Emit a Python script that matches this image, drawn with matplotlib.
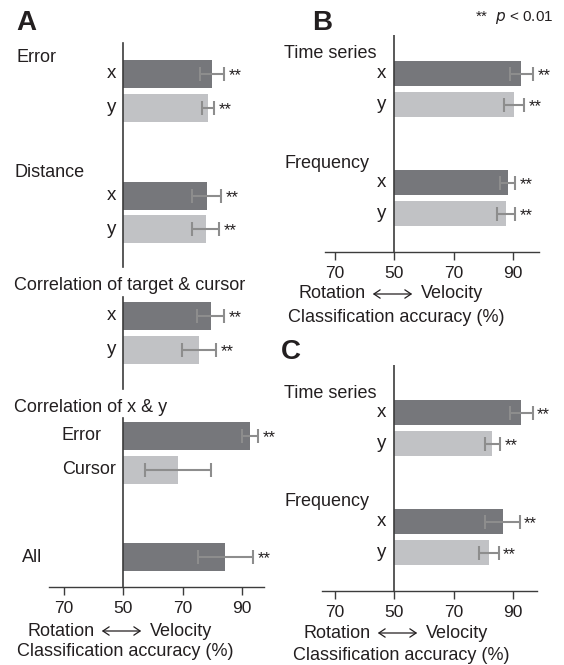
import numpy as np
import matplotlib.pyplot as plt
from matplotlib.patches import FancyArrowPatch

plt.rcParams['font.family'] = ['Liberation Sans', 'DejaVu Sans']

W, H = 564, 665
DARK = '#76777b'
LIGHT = '#c1c2c5'
ERR = '#8d8d8d'
TXT = '#231f20'
AXC = '#3c3c3c'

# panel A data (accuracy %, sem)
a_groups = ['Error', 'Distance', 'Correlation of target & cursor', 'Correlation of x & y', 'All']
a_labels = ['x', 'y', 'x', 'y', 'x', 'y', 'Error', 'Cursor', '']
a_acc = [79.9, 78.5, 78.2, 77.8, 79.5, 75.6, 92.8, 68.4, 84.4]
a_sem = [4.1, 2.1, 4.9, 4.5, 4.5, 5.8, 2.7, 11.2, 9.3]
a_sig = [True, True, True, True, True, True, True, False, True]
a_dark = [True, False, True, False, True, False, True, False, True]

# panel B
b_groups = ['Time series', 'Frequency']
b_labels = ['x', 'y', 'x', 'y']
b_acc = [92.9, 90.3, 88.2, 87.8]
b_sem = [3.9, 3.4, 2.5, 3.0]

# panel C
c_groups = ['Time series', 'Frequency']
c_labels = ['x', 'y', 'x', 'y']
c_acc = [92.9, 83.1, 86.5, 81.9]
c_sem = [3.8, 2.5, 5.8, 3.3]

bd_dark = [True, False, True, False]
bd_sig = [True, True, True, True]

tick_pos = [-20, 0, 20, 40]
tick_labels = ['70', '50', '70', '90']

fig = plt.figure(figsize=(W / 100, H / 100), dpi=100)

SCALE = 2.965  # px per % point


def ftext(x, y, s, **kw):
    kw.setdefault('color', TXT)
    kw.setdefault('va', 'center')
    return fig.text(x / W, 1 - y / H, s, **kw)


def make_axes(x0, top, bottom, xmin, xmax):
    left = x0 + xmin * SCALE
    right = x0 + xmax * SCALE
    ax = fig.add_axes([left / W, 1 - bottom / H, (right - left) / W, (bottom - top) / H])
    ax.set_xlim(xmin, xmax)
    ax.set_ylim(bottom, top)
    for s in ['top', 'right', 'left']:
        ax.spines[s].set_visible(False)
    ax.spines['bottom'].set_color(AXC)
    ax.spines['bottom'].set_linewidth(1.0)
    ax.set_yticks([])
    ax.set_xticks(tick_pos, tick_labels)
    ax.tick_params(axis='x', length=5.5, width=1.0, color=AXC, pad=4.5,
                   labelsize=12.5, labelcolor=TXT)
    ax.patch.set_visible(False)
    return ax


def draw_bars(ax, pos, acc, sem, dark, sig, height, lab, lab_x):
    acc = np.array(acc) - 50
    colors = [DARK if d else LIGHT for d in dark]
    ax.barh(pos, acc, height=height, color=colors, zorder=2)
    ax.errorbar(acc, pos, xerr=sem, fmt='none', ecolor=ERR, elinewidth=1.5,
                capsize=5.2, capthick=1.5, zorder=3)
    for p, v, e, s in zip(pos, acc, sem, sig):
        if s:
            ax.text(v + e + 1.5, p + 2, '**', ha='left', va='center',
                    fontsize=12, color=TXT)
    for p, l, lx in zip(pos, lab, lab_x):
        if l in ('x', 'y'):
            ax.text(lx, p, l, ha='right', va='center', fontsize=13.5, color=TXT, clip_on=False)
        elif l:
            ax.text(lx, p, l, ha='left', va='center', fontsize=13, color=TXT, clip_on=False)


def bottom_text(cx, y1, y2):
    ftext(cx - 25, y1, 'Rotation', ha='right', fontsize=13)
    ftext(cx + 30, y1, 'Velocity', ha='left', fontsize=13)
    fig.patches.append(FancyArrowPatch(
        ((cx - 21) / W, 1 - y1 / H), ((cx + 24) / W, 1 - y1 / H),
        transform=fig.transFigure, arrowstyle='<->,head_length=4.5,head_width=3',
        lw=0.9, color=TXT))
    ftext(cx + 5, y2, 'Classification accuracy (%)', ha='center', fontsize=13)


# ---- Panel A ----
axA = make_axes(123.3, 43, 587, -25, 47.5)
a_pos = [74, 108, 195.5, 229, 316, 350, 436, 470, 557]
a_labx = [-2.5] * 6 + [-20.7, -20.7, 0]
draw_bars(axA, a_pos, a_acc, a_sem, a_dark, a_sig, 28, a_labels, a_labx)
for y0, y1 in [(43, 267), (297, 389), (418, 587)]:
    axA.plot([0, 0], [y0, y1], color=AXC, lw=1.2, zorder=4, clip_on=False)
axA.xaxis.get_major_ticks()[1].tick1line.set_color('#c8c8c8')
for g, (gx, gy) in zip(a_groups, [(16, 57), (15, 173), (14, 286), (14, 407), (22, 557)]):
    ftext(gx, gy, g, ha='left', fontsize=13)
bottom_text(120, 631, 652)
ftext(16, 23, 'A', ha='left', fontsize=20, fontweight='bold')

# ---- Panel B ----
axB = make_axes(394.3, 35, 251.7, -23.3, 48.8)
b_pos = [73.5, 104.5, 182.5, 213.5]
draw_bars(axB, b_pos, b_acc, b_sem, bd_dark, bd_sig, 25, b_labels, [-2.8] * 4)
axB.axvline(0, color=AXC, lw=1.2, zorder=4)
for g, gy in zip(b_groups, [53, 163]):
    ftext(284, gy, g, ha='left', fontsize=13)
bottom_text(391, 294, 317)
ftext(312, 23, 'B', ha='left', fontsize=20, fontweight='bold')
ftext(475, 18, r'**  $\it{p}$ < 0.01', ha='left', fontsize=11)

# ---- Panel C ----
axC = make_axes(394.3, 365, 590.7, -24.4, 48.2)
c_pos = [412.5, 443.5, 521.5, 552.5]
draw_bars(axC, c_pos, c_acc, c_sem, bd_dark, bd_sig, 25, c_labels, [-2.8] * 4)
axC.axvline(0, color=AXC, lw=1.2, zorder=4)
for g, gy in zip(c_groups, [393, 502]):
    ftext(284, gy, g, ha='left', fontsize=13)
bottom_text(396, 633, 656)
ftext(281, 352, 'C', ha='left', fontsize=20, fontweight='bold')

fig.savefig('out.png', dpi=100)
